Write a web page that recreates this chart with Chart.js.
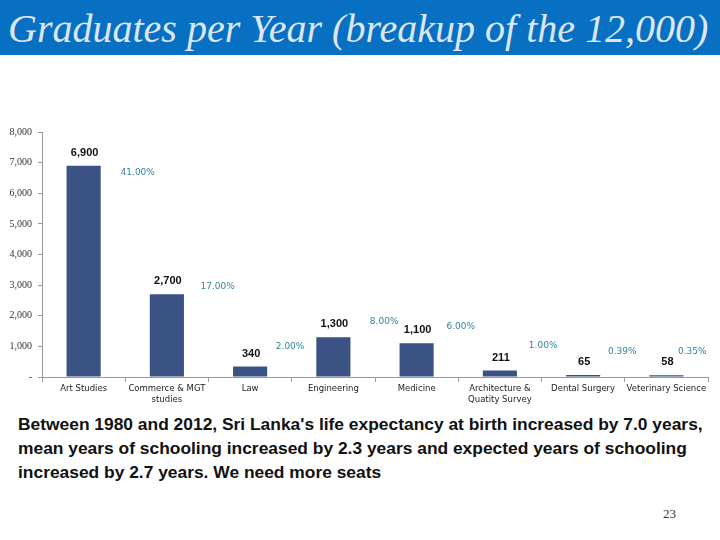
<!DOCTYPE html>
<html>
<head>
<meta charset="utf-8">
<script src="https://cdn.jsdelivr.net/npm/chart.js@4"></script>
<style>
  html, body { margin: 0; padding: 0; background: #fff; }
  body { width: 720px; height: 540px; position: relative; overflow: hidden; }
  #title {
    position: absolute; left: 0; top: 0; width: 720px; height: 55px;
    background: #0870c2; color: #dce6f4;
    font-family: "Liberation Serif", "DejaVu Serif", serif; font-style: italic;
    font-size: 40px; line-height: 58px; padding-left: 8px; box-sizing: border-box;
    white-space: nowrap;
  }
  #wrap { position: absolute; left: 0; top: 120px; width: 720px; height: 290px; }
  #note {
    position: absolute; left: 18px; top: 412px; width: 702px;
    font-family: "Liberation Sans", sans-serif; font-weight: bold;
    font-size: 17.4px; line-height: 24px; color: #111; white-space: nowrap;
  }
  #page {
    position: absolute; left: 663px; top: 506px;
    font-family: "Liberation Serif", serif; font-size: 13px; color: #333;
  }
</style>
</head>
<body>
<div id="title">Graduates per Year (breakup of the 12,000)</div>
<div id="wrap"><canvas id="c"></canvas></div>
<div id="note">Between 1980 and 2012, Sri Lanka's life expectancy at birth increased by 7.0 years,<br>mean years of schooling increased by 2.3 years and expected years of schooling<br>increased by 2.7 years. We need more seats</div>
<div id="page">23</div>
<script>
// categories and values
var categories = [
  'Art Studies', ['Commerce & MGT', 'studies'], 'Law', 'Engineering',
  'Medicine', ['Architecture &', 'Quatity Survey'], 'Dental Surgery', 'Veterinary Science'
];
var graduates = [6900, 2700, 340, 1300, 1100, 211, 65, 58];
var shares = ['41.00%', '17.00%', '2.00%', '8.00%', '6.00%', '1.00%', '0.39%', '0.35%'];
var yTicks = [0, 1000, 2000, 3000, 4000, 5000, 6000, 7000, 8000];

// where the share labels sit: [offset in category widths, height in axis units]
var shareAnchor = [[0.65, 6670], [0.61, 2950], [0.48, 1000], [0.61, 1810],
                   [0.53, 1650], [0.52, 1035], [0.47, 840], [0.31, 840]];

var labelPlugin = {
  id: 'barLabels',
  afterDatasetsDraw: function (chart) {
    var ctx = chart.ctx;
    var x = chart.scales.x, y = chart.scales.y;
    var meta = chart.getDatasetMeta(0);
    var step = x.width / categories.length;
    ctx.save();
    ctx.textAlign = 'center';
    ctx.textBaseline = 'middle';
    meta.data.forEach(function (bar, i) {
      ctx.font = 'bold 11px "Liberation Sans", sans-serif';
      ctx.fillStyle = '#111';
      ctx.fillText(graduates[i].toLocaleString('en-US'), bar.x + 1, bar.y - 13);
      ctx.font = '9px "DejaVu Sans", sans-serif';
      ctx.fillStyle = '#31849b';
      ctx.fillText(shares[i], bar.x + shareAnchor[i][0] * step,
                   y.getPixelForValue(shareAnchor[i][1]));
    });
    ctx.restore();
  }
};

new Chart(document.getElementById('c'), {
  type: 'bar',
  data: {
    labels: categories,
    datasets: [{
      data: graduates,
      backgroundColor: '#3b5284',
      categoryPercentage: 1,
      barPercentage: 0.41
    }]
  },
  options: {
    responsive: true,
    maintainAspectRatio: false,
    animation: false,
    layout: { padding: { top: 10, right: 12, left: 0, bottom: 0 } },
    plugins: { legend: { display: false }, tooltip: { enabled: false } },
    scales: {
      x: {
        grid: { display: true, drawOnChartArea: false, offset: true, tickLength: 5, color: '#999' },
        border: { color: '#999' },
        ticks: {
          color: '#222', font: { family: '"DejaVu Sans", sans-serif', size: 8.5 },
          maxRotation: 0, autoSkip: false, padding: 2
        },
        afterFit: function (s) { s.height = 33; }
      },
      y: {
        min: 0, max: 8000,
        afterBuildTicks: function (s) { s.ticks = yTicks.map(function (v) { return { value: v }; }); },
        grid: { display: true, drawOnChartArea: false, tickLength: 4, color: '#999' },
        border: { color: '#999' },
        ticks: {
          color: '#333', font: { family: '"Liberation Serif", serif', size: 10 },
          padding: 6,
          callback: function (v) { return v === 0 ? '-' : v.toLocaleString('en-US'); }
        },
        afterFit: function (s) { s.width = 42; }
      }
    }
  },
  plugins: [labelPlugin]
});
</script>
</body>
</html>
